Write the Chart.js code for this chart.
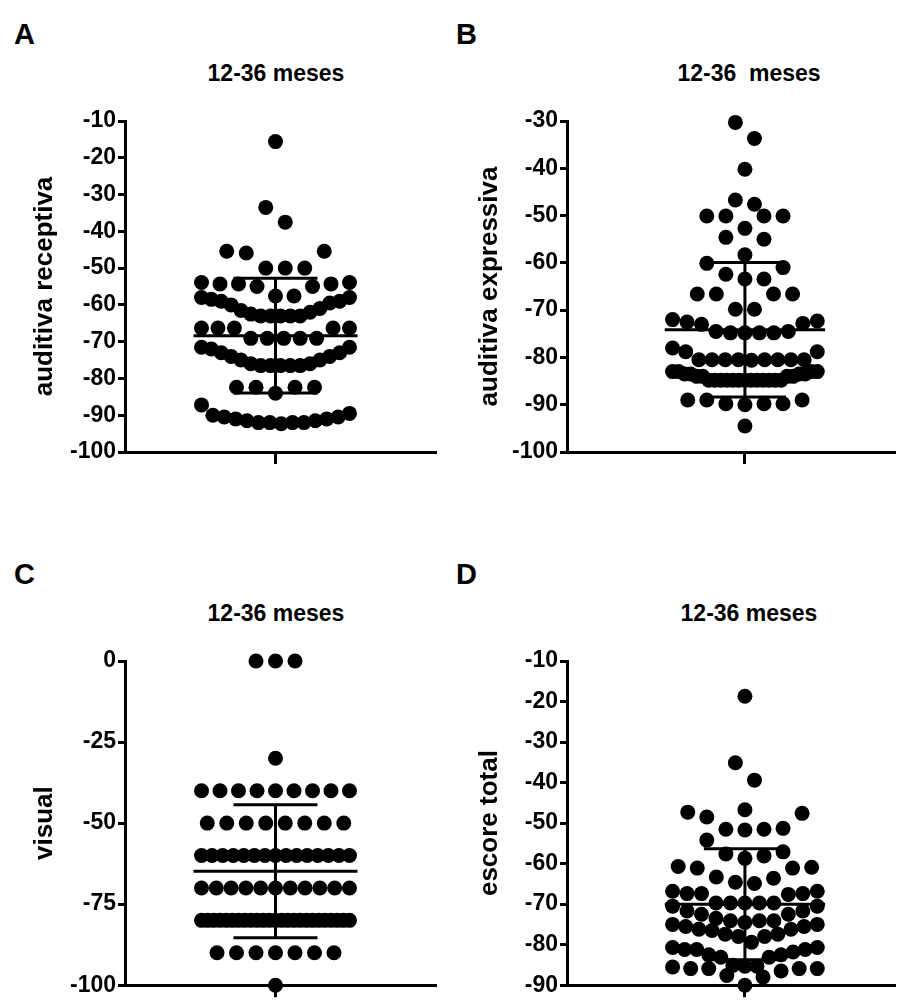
<!DOCTYPE html>
<html>
<head>
<meta charset="utf-8">
<script src="https://cdn.jsdelivr.net/npm/chart.js@4.4.1/dist/chart.umd.min.js"></script>
<style>
  html, body { margin: 0; padding: 0; background: #fff; overflow: hidden; }
  body { width: 902px; height: 1001px; position: relative; font-family: "Liberation Sans", Arial, sans-serif; color: #000; }
  .letter { position: absolute; font-weight: bold; font-size: 29px; line-height: 1; }
  .title { position: absolute; font-weight: bold; font-size: 23px; line-height: 1; transform: translate(-50%, -50%); white-space: pre; }
  canvas { position: absolute; }
</style>
</head>
<body>
<div class="letter" style="left:14px;top:20px">A</div>
<div class="letter" style="left:456px;top:20px">B</div>
<div class="letter" style="left:14px;top:560px">C</div>
<div class="letter" style="left:456px;top:560px">D</div>
<div class="title" style="left:276px;top:73px">12-36 meses</div>
<div class="title" style="left:749px;top:73px">12-36  meses</div>
<div class="title" style="left:276px;top:613px">12-36 meses</div>
<div class="title" style="left:749px;top:613px">12-36 meses</div>

<canvas id="chartA" width="451" height="390" style="left:0;top:90px"></canvas>
<canvas id="chartB" width="451" height="390" style="left:451px;top:90px"></canvas>
<canvas id="chartC" width="451" height="371" style="left:0;top:630px"></canvas>
<canvas id="chartD" width="451" height="371" style="left:451px;top:630px"></canvas>

<script>
// --- data ---
const receptivaValues = [
  -15.6, -33.5, -37.5,
  -45.4, -45.9, -45.4, -50, -50, -50,
  -53.9, -54.3, -55, -55, -54.3, -54.3, -53.9, -57.6, -57.6,
  -58, -58.5, -59, -59.5, -61, -62, -63, -63, -63, -63, -63, -62.5, -61.5, -60, -59, -58,
  -66.3, -66.3, -66.3, -66.3, -66.3, -69.1, -69.1, -69.1, -69.1, -69.1,
  -71.5, -72, -73, -74, -75, -76, -76.5, -76.5, -76.5, -76.5, -76.5, -76, -75, -74, -73, -71.5,
  -82.4, -82.4, -82.4, -82.4, -84,
  -87.2,
  -90, -90.5, -91, -91.5, -92, -92, -92.3, -92, -92, -91.5, -91, -90.5, -89.5
];
const expressivaValues = [
  -30.3, -33.7, -40.2, -46.7, -47.6, -50.1, -50.1, -50.1, -50.1, -52.7, -55, -54.6,
  -58.3, -60.1, -61, -62.4, -63.4, -63.4,
  -66.6, -66.6, -66.6, -66.6, -69.8, -69.8,
  -72, -72.5, -73, -74.5, -74.8, -74.8, -74.8, -74.8, -74.5, -72.8, -72.3,
  -78, -78.8, -80.5, -80.5, -80.5, -80.5, -80.6, -80.5, -80.5, -80.5, -80.5, -78.8,
  -83, -83, -83, -83, -83.5, -83.5, -83.5, -83.5, -84, -84, -84, -84,
  -84.8, -84.8, -84.8, -84.8, -84.8, -84.8, -84.8, -84.8, -84.8, -84.8, -84.8, -84.8, -84.8,
  -89, -89.8, -89.8, -90, -89.8, -89, -89,
  -94.5
];
const visualValues = [
  0, 0, 0,
  -30,
  -40, -40, -40, -40, -40, -40, -40, -40, -40,
  -50, -50, -50, -50, -50, -50, -50, -50,
  -60, -60, -60, -60, -60, -60, -60, -60, -60, -60, -60, -60, -60, -60, -60,
  -70, -70, -70, -70, -70, -70, -70, -70, -70, -70, -70,
  -80, -80, -80, -80, -80, -80, -80, -80, -80, -80, -80, -80, -80,
  -80, -80, -80, -80, -80, -80, -80, -80, -80, -80, -80, -80,
  -90, -90, -90, -90, -90, -90, -90,
  -100
];
const totalValues = [
  -18.7, -35.1, -39.4,
  -46.7, -47.3, -47.6, -48.5,
  -51.3, -51.5, -51.7, -51.5,
  -54.2,
  -57.6, -58.7, -58.1, -57.1,
  -60.7, -61.1, -61.1, -60.9,
  -63.3, -64.9, -64.6, -63.6,
  -66.8, -67.4, -67.4, -67.6, -67.4, -66.8,
  -69.7, -69.7, -69.7, -69.7, -69.7, -70.5, -70.5, -71.7, -71.7, -72.5, -72.5,
  -73.5, -74.1, -74.1, -74.1, -74.5, -75, -75.5, -75.5, -76.2, -76.2, -77.4, -77.4, -78, -78, -75, -76.5,
  -80.7, -80.7, -81.2, -81.2, -81.2, -82.5, -82.5, -83.1, -83.1, -79.4, -81.8,
  -85.1, -85.3, -85.3, -85.5, -85.9, -85.9, -85.9, -85.9, -87.6, -88, -86.5,
  -90
];

const ticksA = [-100, -90, -80, -70, -60, -50, -40, -30, -20, -10];
const ticksB = [-100, -90, -80, -70, -60, -50, -40, -30];
const ticksC = [-100, -75, -50, -25, 0];
const ticksD = [-90, -80, -70, -60, -50, -40, -30, -20, -10];

const yTitles = ["auditiva receptiva", "auditiva expressiva", "visual", "escore total"];

// --- look ---
const FONT = '"Liberation Sans", Arial, sans-serif';
const TICK_SIZE = 23;
const YTITLE_SIZE = 26;
const DOT_R = 7.5;       // dot radius, px
const DOT_STEP = 19.5;   // spacing of dots within a row, px
const MAX_ROW = 148;     // widest a row may get, px
const BAND_PX = 19;      // values closer than this share a row
const MEAN_HALF = 82;
const CAP_HALF = 42;
const AXIS_W = 3;
const ERR_W = 3;

// GraphPad-like column scatter: lowest value of a row in the middle, others alternate outwards
function swarm(values, xs, ys, cx) {
  const sorted = values.slice().sort((a, b) => a - b);
  const pts = [];
  let i = 0;
  while (i < sorted.length) {
    const y0 = ys.getPixelForValue(sorted[i]);
    let j = i;
    while (j < sorted.length && y0 - ys.getPixelForValue(sorted[j]) < BAND_PX) j++;
    const row = sorted.slice(i, j);
    const n = row.length;
    const step = n > 1 ? Math.min(DOT_STEP, MAX_ROW / (n - 1)) : 0;
    row.forEach((v, k) => {
      let off;
      if (n % 2 === 1) {
        const r = Math.ceil(k / 2);
        off = k === 0 ? 0 : (k % 2 === 1 ? 1 : -1) * r * step;
      } else {
        const r = Math.floor(k / 2);
        off = (k % 2 === 0 ? 1 : -1) * (r + 0.5) * step;
      }
      pts.push({ x: xs.getValueForPixel(cx + off), y: v });
    });
    i = j;
  }
  return pts;
}

function mean(arr) {
  return arr.reduce((s, v) => s + v, 0) / arr.length;
}
function stdev(arr, m) {
  return Math.sqrt(arr.reduce((s, v) => s + (v - m) * (v - m), 0) / (arr.length - 1));
}

function lineSet() {
  return { data: [], showLine: true, pointRadius: 0, borderColor: '#000', borderWidth: ERR_W, clip: false, order: 1 };
}

function makePanel(p) {
  const chart = new Chart(document.getElementById(p.id), {
    type: 'scatter',
    data: {
      datasets: [
        { data: [], pointRadius: DOT_R, pointHoverRadius: DOT_R, backgroundColor: '#000', borderWidth: 0, clip: false, order: 2 },
        lineSet(), lineSet(), lineSet(), lineSet()
      ]
    },
    options: {
      responsive: false,
      animation: false,
      events: [],
      layout: { padding: p.pad },
      plugins: { legend: { display: false }, tooltip: { enabled: false } },
      scales: {
        x: {
          type: 'linear', min: p.xMin, max: p.xMax,
          border: { color: '#000', width: AXIS_W },
          grid: { drawOnChartArea: false, drawTicks: true, tickLength: 12, color: '#000', lineWidth: AXIS_W },
          ticks: { callback: () => '', padding: 0 },
          afterBuildTicks: s => { s.ticks = [{ value: 0 }]; },
          afterFit: s => { s.height = p.xAxisH; }
        },
        y: {
          type: 'linear', min: p.ticks[0], max: p.ticks[p.ticks.length - 1],
          border: { color: '#000', width: AXIS_W },
          grid: { drawOnChartArea: false, drawTicks: true, tickLength: 7, color: '#000', lineWidth: AXIS_W },
          ticks: { color: '#000', font: { family: FONT, size: TICK_SIZE, weight: 'bold' }, padding: 2 },
          afterBuildTicks: s => { s.ticks = p.ticks.map(v => ({ value: v })); },
          afterFit: s => { s.width = p.yAxisW; },
          title: {
            display: true, text: p.yTitle, color: '#000',
            font: { family: FONT, size: YTITLE_SIZE, weight: 'bold' },
            padding: { top: p.titlePad, bottom: 0 }
          }
        }
      }
    }
  });

  const xs = chart.scales.x, ys = chart.scales.y;
  const cx = xs.getPixelForValue(0);
  const xv = px => xs.getValueForPixel(cx + px);
  const m = mean(p.values), sd = stdev(p.values, m);
  const ds = chart.data.datasets;
  ds[0].data = swarm(p.values, xs, ys, cx);
  ds[1].data = [{ x: xv(-MEAN_HALF), y: m }, { x: xv(MEAN_HALF), y: m }];
  ds[2].data = [{ x: xv(-CAP_HALF), y: m + sd }, { x: xv(CAP_HALF), y: m + sd }];
  ds[3].data = [{ x: xv(-CAP_HALF), y: m - sd }, { x: xv(CAP_HALF), y: m - sd }];
  ds[4].data = [{ x: 0, y: m + sd }, { x: 0, y: m - sd }];
  chart.update('none');
}

makePanel({ id: 'chartA', values: receptivaValues, ticks: ticksA, yTitle: yTitles[0],
  pad: { left: 10, top: 31, right: 16, bottom: 8 }, yAxisW: 115, xAxisH: 20, titlePad: 19.4,
  xMin: -150.5, xMax: 159.5 });
makePanel({ id: 'chartB', values: expressivaValues, ticks: ticksB, yTitle: yTitles[1],
  pad: { left: 10, top: 31, right: 0, bottom: 8 }, yAxisW: 106, xAxisH: 20, titlePad: 13.4,
  xMin: -182, xMax: 153 });
makePanel({ id: 'chartC', values: visualValues, ticks: ticksC, yTitle: yTitles[2],
  pad: { left: 10, top: 31, right: 16, bottom: 0 }, yAxisW: 115, xAxisH: 10, titlePad: 19.4,
  xMin: -150.5, xMax: 159.5 });
makePanel({ id: 'chartD', values: totalValues, ticks: ticksD, yTitle: yTitles[3],
  pad: { left: 10, top: 31, right: 0, bottom: 0 }, yAxisW: 106, xAxisH: 10, titlePad: 13.4,
  xMin: -182, xMax: 153 });
</script>
</body>
</html>
